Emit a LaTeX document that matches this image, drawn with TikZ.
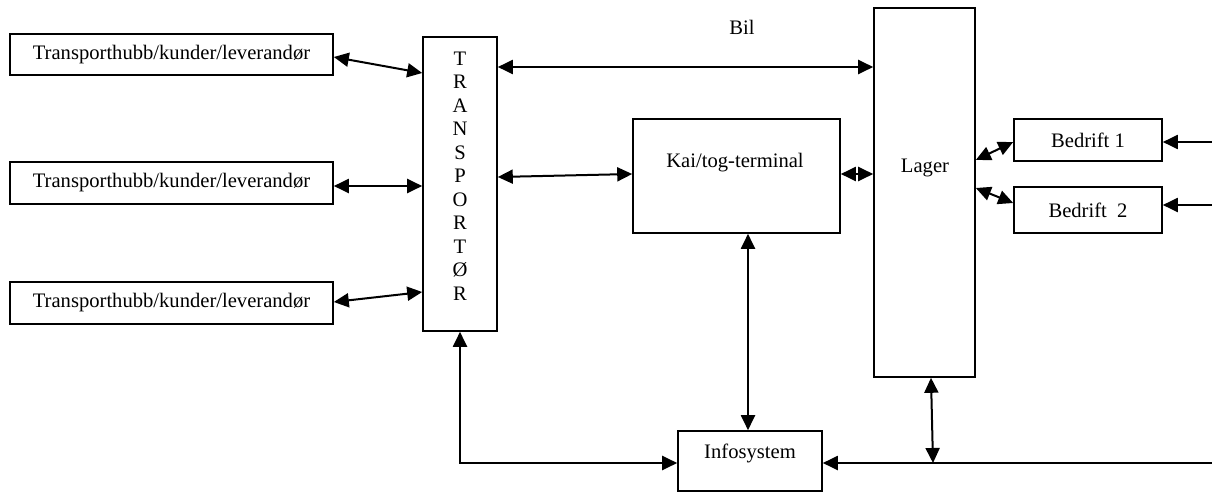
\documentclass[tikz,border=0pt]{standalone}
\usepackage{fontspec}
\setmainfont{Liberation Serif}
\usetikzlibrary{arrows.meta}
\begin{document}
\begin{tikzpicture}[x=1pt,y=-1pt,
  box/.style={draw, line width=1.6pt, inner sep=0pt, font=\fontsize{20.6}{24}\selectfont},
  conn/.style={line width=2pt, {Triangle[length=15pt,width=14pt]}-{Triangle[length=15pt,width=14pt]}},
  oneway/.style={line width=2pt, -{Triangle[length=15pt,width=14pt]}},
  lbl/.style={inner sep=0pt, font=\fontsize{20.6}{24}\selectfont}]
\useasboundingbox (0,0) rectangle (1212,492);
% boxes
\node[box, minimum width=323pt, minimum height=41pt] (hub1) at (171.5,54.5) {Transporthubb/kunder/leverandør};
\node[box, minimum width=323pt, minimum height=42pt] (hub2) at (171.5,183) {Transporthubb/kunder/leverandør};
\node[box, minimum width=323pt, minimum height=42pt] (hub3) at (171.5,303) {Transporthubb/kunder/leverandør};
\node[box, minimum width=74pt, minimum height=294pt] (trans) at (460,184) {};
\node[lbl, align=center, font=\fontsize{20.6}{23.5}\selectfont] (translbl) at (460,176) {T\\R\\A\\N\\S\\P\\O\\R\\T\\Ø\\R};
\node[box, minimum width=207pt, minimum height=114pt] (kai) at (736.5,176) {};
\node[lbl] (kailbl) at (735,163) {Kai/tog-terminal};
\node[box, minimum width=101pt, minimum height=369pt] (lager) at (924.5,192.5) {};
\node[lbl] (lagerlbl) at (925,168) {Lager};
\node[box, minimum width=148pt, minimum height=42pt] (b1) at (1088,140) {Bedrift 1};
\node[box, minimum width=148pt, minimum height=46pt] (b2) at (1088,210) {Bedrift\ \ 2};
\node[box, minimum width=144pt, minimum height=60pt] (info) at (750,461) {};
\node[lbl] (infolbl) at (750,453) {Infosystem};
\node[lbl] (bil) at (742,27) {Bil};
% connectors
\draw[conn] (hub1.east |- 0,57) -- (trans.west |- 0,73);
\draw[conn] (hub2.east |- 0,186) -- (trans.west |- 0,186);
\draw[conn] (hub3.east |- 0,302) -- (trans.west |- 0,292);
\draw[conn] (trans.east |- 0,67) -- (lager.west |- 0,67);
\draw[conn] (trans.east |- 0,177) -- (kai.west |- 0,174);
\draw[conn] (kai.east |- 0,174) -- (lager.west |- 0,174);
\draw[conn] (lager.east |- 0,160) -- (b1.west |- 0,142);
\draw[conn] (lager.east |- 0,188) -- (b2.west |- 0,203);
\coordinate (r1) at (1212,142);
\coordinate (r2) at (1212,205);
\coordinate (r3) at (1212,463);
\coordinate (j) at (933,463);
\draw[oneway] (r1) -- (b1.east |- r1);
\draw[oneway] (r2) -- (b2.east |- r2);
\draw[conn] (kai.south -| 748,0) -- (info.north -| 748,0);
\draw[oneway] (r3) -- (info.east |- r3);
\draw[conn] (lager.south -| 931,0) -- (j);
\draw[conn] (info.west |- 0,463) -- (460,463) -- (trans.south);
\end{tikzpicture}
\end{document}
